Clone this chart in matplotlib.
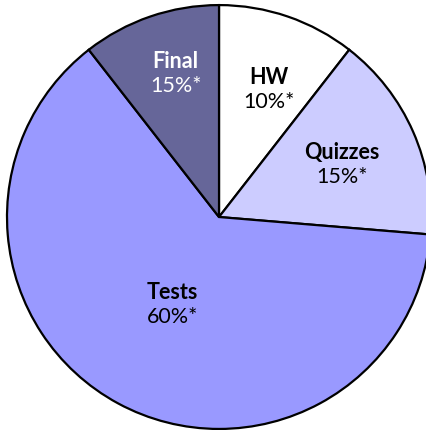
import matplotlib
matplotlib.use('Agg')
import matplotlib.pyplot as plt

# grade weights (slices drawn from these; labels show the printed text)
categories = ['HW', 'Quizzes', 'Tests', 'Final']
weights = [10, 15, 60, 10]
pct_labels = ['10%*', '15%*', '60%*', '15%*']
colors = ['#FFFFFF', '#CCCCFF', '#9999FF', '#666699']
text_colors = ['black', 'black', 'black', 'white']

# label centres in data units (pie radius = 1)
label_pos = [(0.235, 0.600), (0.580, 0.245), (-0.220, -0.413), (-0.205, 0.675)]

plt.rcParams['font.family'] = ['Lato', 'DejaVu Sans']

fig = plt.figure(figsize=(4.27, 4.30), dpi=100)
ax = fig.add_axes([0, 0, 1, 1])

ax.pie(weights, colors=colors, startangle=90, counterclock=False,
       wedgeprops=dict(edgecolor='black', linewidth=1.6))

for name, pct, (x, y), tc in zip(categories, pct_labels, label_pos, text_colors):
    ax.text(x, y + 0.058, name, ha='center', va='center', fontsize=15.5,
            fontweight='bold', color=tc)
    ax.text(x, y - 0.058, pct, ha='center', va='center', fontsize=15.5,
            color=tc)

ax.set_xlim(-1.033, 0.981)
ax.set_ylim(-1.005, 1.024)
ax.set_aspect('auto')
ax.axis('off')

fig.savefig('out.png', dpi=100)
